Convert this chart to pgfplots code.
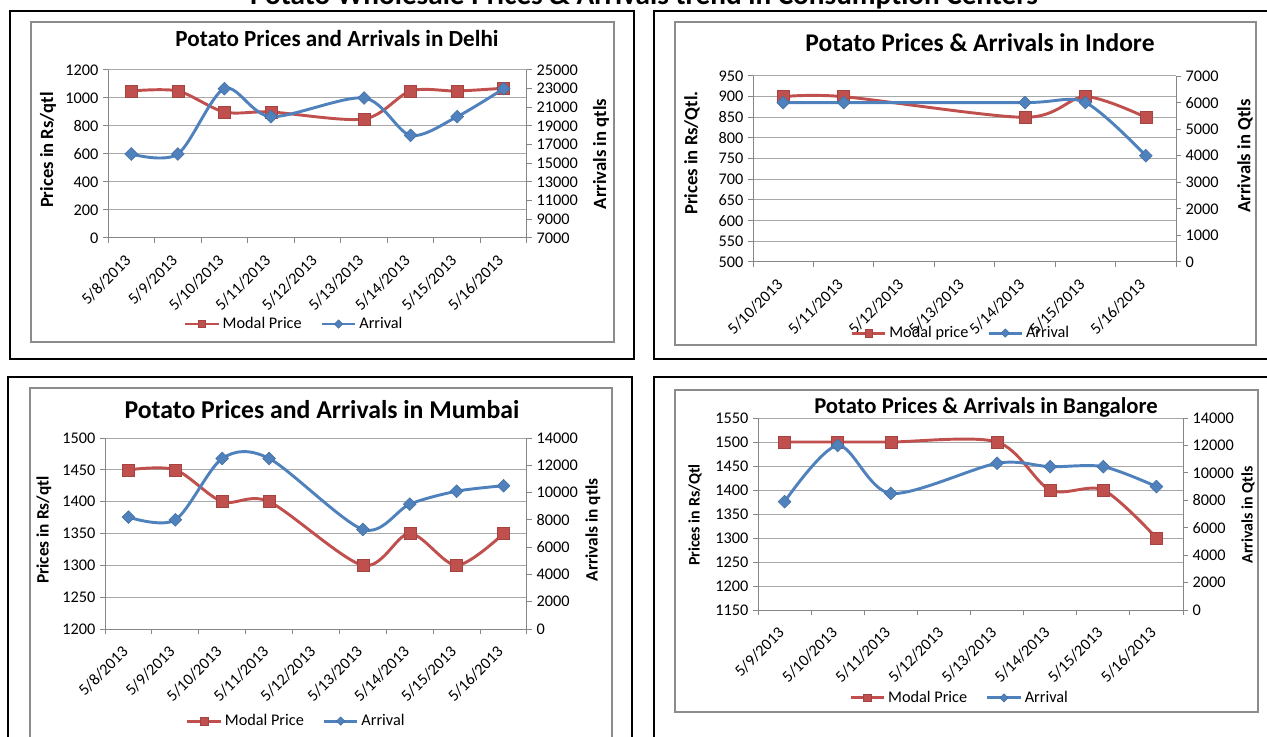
\documentclass[border=0pt]{standalone}
\usepackage{fontspec}
\setmainfont{Carlito}
\usepackage{pgfplots}
\pgfplotsset{compat=1.18}
\definecolor{pricered}{HTML}{C0504D}
\definecolor{arrblue}{HTML}{4F81BD}
\definecolor{axisgray}{HTML}{868686}
\definecolor{gridgray}{HTML}{A8A8A8}
\definecolor{boxgray}{HTML}{8C8C8C}
\newcommand{\tickfont}{\fontsize{12.2}{14}\selectfont}
\pgfplotsset{
  base/.style={scale only axis, enlargelimits=false, clip=false,
    scaled y ticks=false, scaled x ticks=false,
    /pgf/number format/assume math mode=true,
    /pgf/number format/1000 sep={},
    tick label style={font=\tickfont},
    axis line style={draw=axisgray, line width=0.75pt},
    tick style={draw=axisgray, line width=0.75pt},
    tick align=outside, major tick length=3.75pt, minor tick length=3.75pt},
  leftax/.style={base, axis y line*=left, axis x line*=bottom,
    ymajorgrids, grid style={draw=gridgray, line width=0.75pt},
    major x tick style={draw=none},
    xticklabel style={yshift=-9pt, rotate=45, anchor=east}},
  rightax/.style={base, axis y line*=right, axis x line=none,
    legend style={draw=none, fill=none, anchor=center, legend columns=2,
      font=\tickfont, /tikz/every even column/.append style={column sep=12pt}},
    legend image code/.code={\draw[##1, mark repeat=2, mark phase=2]
      plot coordinates {(0pt,0pt)(12.5pt,0pt)(25pt,0pt)};}},
  price/.style={pricered, line width=2.2pt, smooth, tension=0.5,
    mark=square*, mark size=4.5pt,
    mark options={solid, fill=pricered, draw=pricered!85!black, line width=0.4pt}},
  arr/.style={arrblue, line width=2.2pt, smooth, tension=0.5,
    mark=square*, mark size=3.4pt,
    mark options={solid, rotate=45, fill=arrblue, draw=arrblue!85!black, line width=0.4pt}},
}
\begin{document}
\begin{tikzpicture}
\path[use as bounding box] (0pt,0pt) rectangle (950.25pt,552pt);

% ---------------- Delhi ----------------
\begin{axis}[leftax, at={(81pt,373.5pt)}, anchor=south west,
  width=314.25pt, height=126pt,
  xmin=-0.5, xmax=8.5, ymin=0, ymax=1200, ytick={0,200,...,1200},
  xtick={0,...,8}, minor xtick={-0.5,0.5,...,8.5},
  xticklabels={5/8/2013,5/9/2013,5/10/2013,5/11/2013,5/12/2013,5/13/2013,5/14/2013,5/15/2013,5/16/2013}]
\addplot[price] coordinates {(0,1050)(1,1050)(2,900)(3,900)(5,850)(6,1050)(7,1050)(8,1070)};
\end{axis}
\begin{axis}[rightax, at={(81pt,373.5pt)}, anchor=south west,
  width=314.25pt, height=126pt,
  xmin=-0.5, xmax=8.5, ymin=7000, ymax=25000, ytick={7000,9000,...,25000},
  legend style={at={(0.445,-0.512)}}]
\addlegendimage{price, mark size=2.8pt}
\addlegendentry{Modal Price}
\addplot[arr, legend image post style={mark size=2.2pt}] coordinates {(0,16000)(1,16000)(2,23000)(3,20000)(5,22000)(6,18000)(7,20000)(8,23000)};
\addlegendentry{Arrival}
\end{axis}

% ---------------- Indore ----------------
\begin{axis}[leftax, at={(564.75pt,355.5pt)}, anchor=south west,
  width=317.25pt, height=139.5pt,
  xmin=-0.5, xmax=6.5, ymin=500, ymax=950, ytick={500,550,...,950},
  xtick={0,...,6}, minor xtick={-0.5,0.5,...,6.5},
  xticklabels={5/10/2013,5/11/2013,5/12/2013,5/13/2013,5/14/2013,5/15/2013,5/16/2013}]
\addplot[price] coordinates {(0,900)(1,900)(4,850)(5,900)(6,850)};
\end{axis}
\begin{axis}[rightax, at={(564.75pt,355.5pt)}, anchor=south west,
  width=317.25pt, height=139.5pt,
  xmin=-0.5, xmax=6.5, ymin=0, ymax=7000, ytick={0,1000,...,7000},
  legend style={at={(0.492,-0.382)}}]
\addlegendimage{price, mark size=2.8pt}
\addlegendentry{Modal price}
\addplot[arr, legend image post style={mark size=2.2pt}] coordinates {(0,6000)(1,6000)(4,6000)(5,6000)(6,4000)};
\addlegendentry{Arrival}
\end{axis}

% ---------------- Mumbai ----------------
\begin{axis}[leftax, at={(78.75pt,80.25pt)}, anchor=south west,
  width=316.5pt, height=143.25pt,
  xmin=-0.5, xmax=8.5, ymin=1200, ymax=1500, ytick={1200,1250,...,1500},
  xtick={0,...,8}, minor xtick={-0.5,0.5,...,8.5},
  xticklabels={5/8/2013,5/9/2013,5/10/2013,5/11/2013,5/12/2013,5/13/2013,5/14/2013,5/15/2013,5/16/2013}]
\addplot[price] coordinates {(0,1450)(1,1450)(2,1400)(3,1400)(5,1300)(6,1350)(7,1300)(8,1350)};
\end{axis}
\begin{axis}[rightax, at={(78.75pt,80.25pt)}, anchor=south west,
  width=316.5pt, height=143.25pt,
  xmin=-0.5, xmax=8.5, ymin=0, ymax=14000, ytick={0,2000,...,14000},
  legend style={at={(0.454,-0.482)}}]
\addlegendimage{price, mark size=2.8pt}
\addlegendentry{Modal Price}
\addplot[arr, legend image post style={mark size=2.2pt}] coordinates {(0,8200)(1,8000)(2,12500)(3,12500)(5,7300)(6,9150)(7,10100)(8,10500)};
\addlegendentry{Arrival}
\end{axis}

% ---------------- Bangalore ----------------
\begin{axis}[leftax, at={(568.5pt,94.5pt)}, anchor=south west,
  width=318.75pt, height=144pt,
  xmin=-0.5, xmax=7.5, ymin=1150, ymax=1550, ytick={1150,1200,...,1550},
  xtick={0,...,7}, minor xtick={-0.5,0.5,...,7.5},
  xticklabels={5/9/2013,5/10/2013,5/11/2013,5/12/2013,5/13/2013,5/14/2013,5/15/2013,5/16/2013}]
\addplot[price] coordinates {(0,1500)(1,1500)(2,1500)(4,1500)(5,1400)(6,1400)(7,1300)};
\end{axis}
\begin{axis}[rightax, at={(568.5pt,94.5pt)}, anchor=south west,
  width=318.75pt, height=144pt,
  xmin=-0.5, xmax=7.5, ymin=0, ymax=14000, ytick={0,2000,...,14000},
  legend style={at={(0.475,-0.458)}}]
\addlegendimage{price, mark size=2.8pt}
\addlegendentry{Modal Price}
\addplot[arr, legend image post style={mark size=2.2pt}] coordinates {(0,7900)(1,12000)(2,8500)(4,10700)(5,10450)(6,10450)(7,9000)};
\addlegendentry{Arrival}
\end{axis}

% ---------------- frames and texts ----------------
\begin{scope}[x=0.75pt, y=-0.75pt, shift={(0pt,552pt)}]
  \draw[line width=1.8pt] (10,11) rectangle (634,359);
  \draw[line width=1.8pt] (1280,11) -- (654,11) -- (654,359) -- (1280,359);
  \draw[line width=1.8pt] (8,745) -- (8,377) -- (632,377) -- (632,745);
  \draw[line width=1.8pt] (654,745) -- (654,377) -- (1280,377);
  \draw[boxgray, line width=1pt] (31,22) rectangle (614,342);
  \draw[boxgray, line width=1pt] (675,22) rectangle (1256,345);
  \draw[boxgray, line width=1pt] (30,745) -- (30,388) -- (612,388) -- (612,745);
  \draw[boxgray, line width=1pt] (675,390) rectangle (1258,712);

  \node[anchor=base, inner sep=0pt, font=\bfseries\fontsize{21.9}{24}\selectfont] at (644,4.5)
    {Potato Wholesale Prices \& Arrivals trend in Consumption Centers};
  \node[anchor=base, inner sep=0pt, font=\bfseries\fontsize{17.3}{20}\selectfont] at (337,47)
    {Potato Prices and Arrivals in Delhi};
  \node[anchor=base, inner sep=0pt, font=\bfseries\fontsize{19.1}{22}\selectfont] at (980,51.5)
    {Potato Prices \& Arrivals in Indore};
  \node[anchor=base, inner sep=0pt, font=\bfseries\fontsize{19.3}{22}\selectfont] at (322,419)
    {Potato Prices and Arrivals in Mumbai};
  \node[anchor=base, inner sep=0pt, font=\bfseries\fontsize{17}{20}\selectfont] at (986,414)
    {Potato Prices \& Arrivals in Bangalore};

  \node[rotate=90, inner sep=0pt, font=\bfseries\fontsize{14}{16}\selectfont] at (48,150) {Prices in Rs/qtl};
  \node[rotate=90, inner sep=0pt, font=\bfseries\fontsize{14}{16}\selectfont] at (601,154) {Arrivals in qtls};
  \node[rotate=90, inner sep=0pt, font=\bfseries\fontsize{14}{16}\selectfont] at (692,153) {Prices in Rs/Qtl.};
  \node[rotate=90, inner sep=0pt, font=\bfseries\fontsize{14}{16}\selectfont] at (1245,156) {Arrivals in Qtls};
  \node[rotate=90, inner sep=0pt, font=\bfseries\fontsize{13}{15}\selectfont] at (44,530) {Prices in Rs/qtl};
  \node[rotate=90, inner sep=0pt, font=\bfseries\fontsize{13}{15}\selectfont] at (593,530) {Arrivals in qtls};
  \node[rotate=90, inner sep=0pt, font=\bfseries\fontsize{12}{14}\selectfont] at (695,515) {Prices in Rs/Qtl};
  \node[rotate=90, inner sep=0pt, font=\bfseries\fontsize{12}{14}\selectfont] at (1248,515) {Arrivals in Qtls};
\end{scope}
\end{tikzpicture}
\end{document}
